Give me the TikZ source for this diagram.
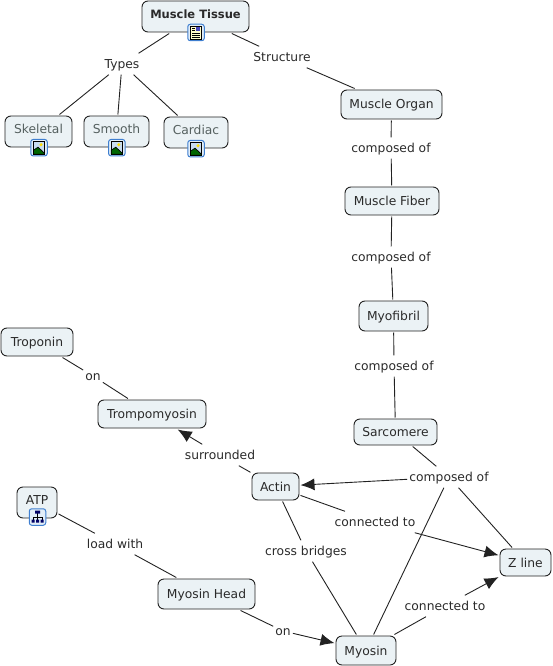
\documentclass[tikz,border=0pt]{standalone}
\usepackage{fontspec}
\setmainfont{DejaVu Sans}
\usetikzlibrary{arrows.meta}
\definecolor{boxfill}{HTML}{EBF2F5}
\definecolor{boxline}{HTML}{222222}
\definecolor{txt}{HTML}{2A2A2A}
\definecolor{linktxt}{HTML}{55605F}
\definecolor{iconblue}{HTML}{3F7FD0}
\definecolor{iconbg}{HTML}{E2EEF8}
\definecolor{sky}{HTML}{C8DCF0}
\tikzset{
  concept/.style={draw=boxline,fill=boxfill,rounded corners=6pt,line width=0.9pt,text=txt,inner sep=0pt,font=\fontsize{12.3}{14}\selectfont,outer sep=1.5pt,text height=11pt,text depth=2pt},
  linker/.style={text=txt,font=\fontsize{12.3}{14}\selectfont,inner xsep=2pt,inner ysep=4pt,text height=11pt,text depth=2pt},
  conn/.style={draw=boxline,line width=0.9pt},
  arrowconn/.style={conn,-{Latex[length=14pt,width=12pt]}},
  iconframe/.style={draw=iconblue,fill=iconbg,rounded corners=2.5pt,line width=1pt,minimum width=16.5pt,minimum height=16.5pt,inner sep=0pt}
}
\newcommand{\imgicon}[1]{%
  \begin{scope}[shift={(#1)}]
    \node[iconframe] at (0,0) {};
    \fill[sky,draw=black,line width=0.7pt] (-5.5,-6.5) rectangle (5.5,6.5);
    \fill[yellow!80!orange] (2,-3) circle (1.7);
    \fill[green!40!black,draw=black,line width=0.7pt] (-5.5,6.5) -- (-5.5,2.5) -- (-1,-0.5) -- (5.5,5.5) -- (5.5,6.5) -- cycle;
  \end{scope}}
\newcommand{\docicon}[1]{%
  \begin{scope}[shift={(#1)}]
    \node[iconframe] at (0,0) {};
    \fill[yellow!20,draw=black,line width=0.7pt] (-5.5,-6.5) rectangle (5.5,6.5);
    \fill[blue!45!gray] (0,-5) rectangle (4,-1);
    \draw[black,line width=0.8pt] (-4,-4.5)--(-1,-4.5) (-4,-2.5)--(-1,-2.5) (-4,0.5)--(4,0.5) (-4,2.5)--(4,2.5) (-4,4.5)--(4,4.5);
  \end{scope}}
\newcommand{\mapicon}[1]{%
  \begin{scope}[shift={(#1)}]
    \node[iconframe] at (0,0) {};
    \draw[black,line width=0.6pt] (0,-4)--(0,4) (-4.5,0)--(4.5,0) (-4.5,0)--(-4.5,3) (4.5,0)--(4.5,3);
    \fill[blue!40!black] (-2.5,-6.5) rectangle (2.5,-3.5) (-6,2.5) rectangle (-3,5.5) (-1.5,2.5) rectangle (1.5,5.5) (3,2.5) rectangle (6,5.5);
  \end{scope}}
\begin{document}
\begin{tikzpicture}[x=1pt,y=-1pt]
\useasboundingbox (0,0) rectangle (552,666);
% concepts
\node[concept,minimum width=107pt,minimum height=31pt,font=\fontsize{11.5}{14}\selectfont] (tissue) at (195.5,16.5) {\raisebox{2.5pt}{\bfseries Muscle Tissue}};
\node[concept,minimum width=67pt,minimum height=31pt,text=linktxt] (skeletal) at (38.5,131.5) {\raisebox{2.5pt}{Skeletal}};
\node[concept,minimum width=65pt,minimum height=31pt,text=linktxt] (smooth) at (116.5,131.5) {\raisebox{2.5pt}{Smooth}};
\node[concept,minimum width=64pt,minimum height=31pt,text=linktxt] (cardiac) at (196,132.5) {\raisebox{2.5pt}{Cardiac}};
\node[concept,minimum width=101pt,minimum height=29pt] (organ) at (391.5,104.5) {Muscle Organ};
\node[concept,minimum width=94pt,minimum height=28pt] (fiber) at (392,201) {Muscle Fiber};
\node[concept,minimum width=69pt,minimum height=30pt] (myofibril) at (393.5,316) {Myofibril};
\node[concept,minimum width=83pt,minimum height=26pt] (sarcomere) at (395.5,432) {Sarcomere};
\node[concept,minimum width=47pt,minimum height=27pt] (actin) at (275.5,486.5) {Actin};
\node[concept,minimum width=51pt,minimum height=27pt] (zline) at (525.5,562.5) {Z line};
\node[concept,minimum width=60pt,minimum height=29pt] (myosin) at (366,650.5) {Myosin};
\node[concept,minimum width=97pt,minimum height=30pt] (head) at (206.5,594) {Myosin Head};
\node[concept,minimum width=40pt,minimum height=31pt] (atp) at (37,502.5) {\raisebox{2.5pt}{ATP}};
\node[concept,minimum width=72pt,minimum height=28pt] (troponin) at (37,342) {Troponin};
\node[concept,minimum width=108pt,minimum height=28pt] (tropo) at (152,414) {Trompomyosin};
% linking phrases
\node[linker] (types) at (122,64) {Types};
\node[linker] (structure) at (282,57) {Structure};
\node[linker] (c1) at (391,148) {composed of};
\node[linker] (c2) at (391,257) {composed of};
\node[linker] (c3) at (394,366) {composed of};
\node[linker] (c4) at (449,477) {composed of};
\node[linker] (on1) at (93,376) {on};
\node[linker] (surr) at (220,455) {surrounded};
\node[linker] (conn1) at (375,522) {connected to};
\node[linker] (cross) at (306,551) {cross bridges};
\node[linker] (conn2) at (445,606) {connected to};
\node[linker] (load) at (115,544) {load with};
\node[linker] (on2) at (283,631) {on};
% connectors
\draw[conn] (tissue) -- (types);
\draw[conn] (types) -- (skeletal);
\draw[conn] (types) -- (smooth);
\draw[conn] (types) -- (cardiac);
\draw[conn] (tissue) -- (structure);
\draw[conn] (structure) -- (organ);
\draw[conn] (organ) -- (c1);
\draw[conn] (c1) -- (fiber);
\draw[conn] (fiber) -- (c2);
\draw[conn] (c2) -- (myofibril);
\draw[conn] (myofibril) -- (c3);
\draw[conn] (c3) -- (sarcomere);
\draw[conn] (sarcomere) -- (c4);
\draw[arrowconn] (c4) -- (actin);
\draw[conn] (c4) -- (zline);
\draw[conn] (c4) -- (myosin);
\draw[conn] (troponin) -- (on1);
\draw[conn] (on1) -- (tropo);
\draw[conn] (actin) -- (surr);
\draw[arrowconn] (surr) -- (tropo);
\draw[conn] (actin) -- (conn1);
\draw[arrowconn] (conn1) -- (zline);
\draw[conn] (actin) -- (cross);
\draw[conn] (cross) -- (myosin);
\draw[conn] (myosin) -- (conn2);
\draw[arrowconn] (conn2) -- (zline);
\draw[conn] (atp) -- (load);
\draw[conn] (load) -- (head);
\draw[conn] (head) -- (on2);
\draw[arrowconn] (on2) -- (myosin);
% icons
\docicon{196,32.5}
\imgicon{39,147.7}
\imgicon{116.8,147.7}
\imgicon{196,148.7}
\mapicon{37.5,517}
\end{tikzpicture}
\end{document}
